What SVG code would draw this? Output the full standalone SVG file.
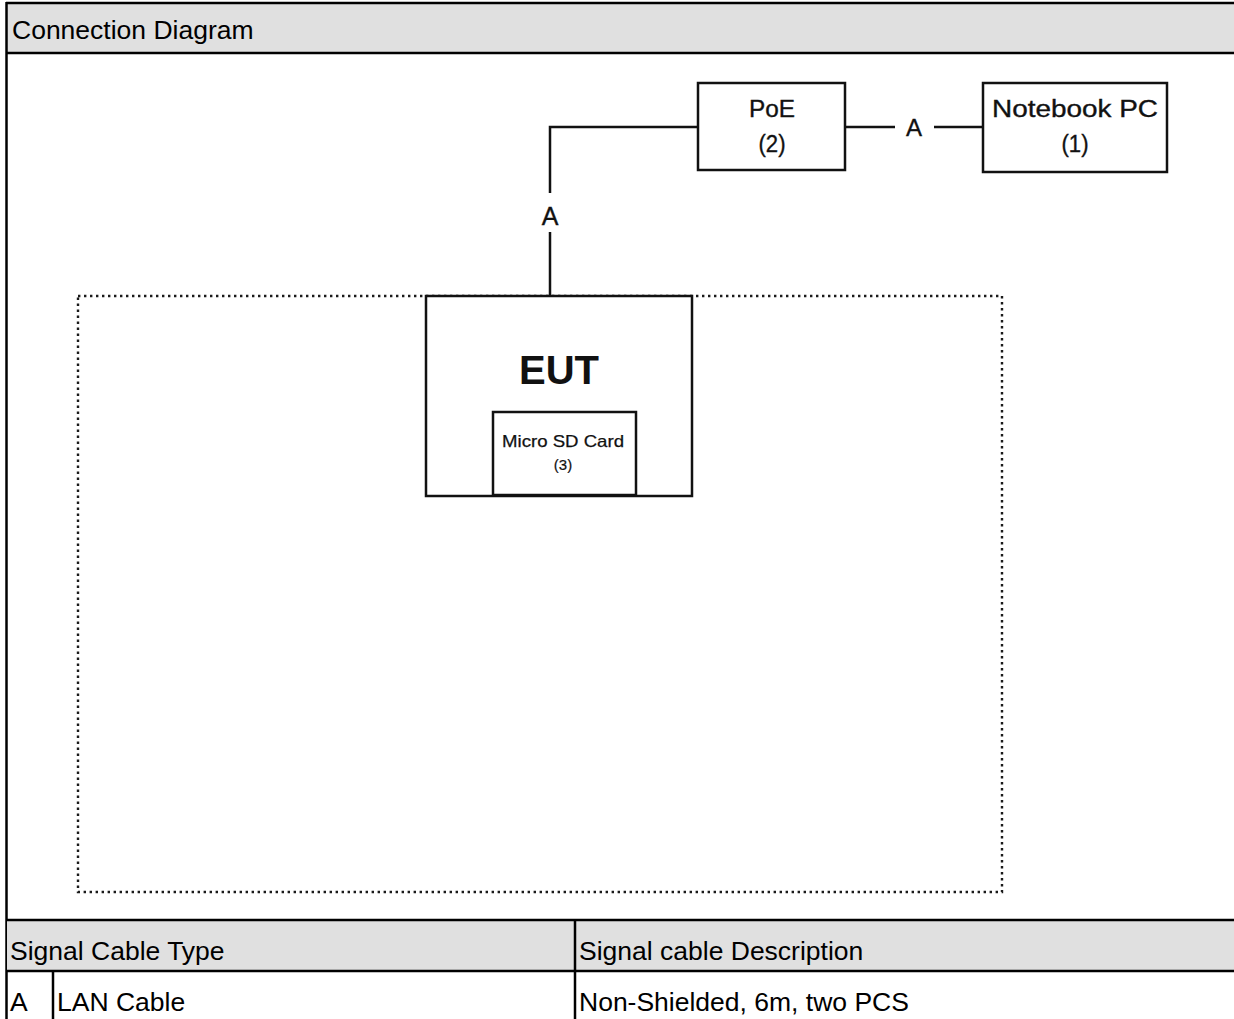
<svg xmlns="http://www.w3.org/2000/svg" width="1234" height="1019" viewBox="0 0 1234 1019">
<style>
.frame{stroke:#000;stroke-width:2.5;fill:none}
.hdr{fill:#e0e0e0}
.tt{font-family:"Liberation Sans",Arial,sans-serif;font-size:26.5px;fill:#000}
.lbl{font-family:"Liberation Sans",Arial,sans-serif;fill:#111;text-anchor:middle;stroke:#111;stroke-width:0.35}
.box{fill:#fff;stroke:#111;stroke-width:2.5}
.wire{stroke:#111;stroke-width:2.5;fill:none}
.dot{stroke:#1a1a1a;stroke-width:2.4;fill:none;stroke-dasharray:2.4 3.6}
</style>
<rect x="0" y="0" width="1234" height="1019" fill="#fff"/>
<g id="title-row">
<rect class="hdr" x="7" y="4" width="1227" height="49"/>
<line class="frame" x1="6" y1="3" x2="1234" y2="3"/>
<line class="frame" x1="6" y1="53" x2="1234" y2="53"/>
<text class="tt" x="12" y="39">Connection Diagram</text>
</g>
<line class="frame" x1="6.5" y1="2" x2="6.5" y2="1019"/>
<g id="boundary">
<rect class="dot" x="78" y="296" width="924" height="596"/>
</g>
<g id="connectors">
<polyline class="wire" points="698,127 550,127 550,193"/>
<line class="wire" x1="550" y1="232" x2="550" y2="296"/>
<line class="wire" x1="845" y1="127" x2="895" y2="127"/>
<line class="wire" x1="934" y1="127" x2="983" y2="127"/>
<text class="lbl" x="550" y="225" style="font-size:25px">A</text>
<text class="lbl" x="914" y="136" style="font-size:24px">A</text>
</g>
<g id="poe">
<rect class="box" x="698" y="83" width="147" height="87"/>
<text class="lbl" x="772" y="117" style="font-size:23px" textLength="46" lengthAdjust="spacingAndGlyphs">PoE</text>
<text class="lbl" x="772" y="152" style="font-size:23px" textLength="27" lengthAdjust="spacingAndGlyphs">(2)</text>
</g>
<g id="notebook">
<rect class="box" x="983" y="83" width="184" height="89"/>
<text class="lbl" x="1075" y="117" style="font-size:23.5px" textLength="166" lengthAdjust="spacingAndGlyphs">Notebook PC</text>
<text class="lbl" x="1075" y="152" style="font-size:23px" textLength="27" lengthAdjust="spacingAndGlyphs">(1)</text>
</g>
<g id="eut">
<rect class="box" x="426" y="296" width="266" height="200"/>
<text x="559" y="384" font-family="Liberation Sans,Arial,sans-serif" font-weight="bold" font-size="40" text-anchor="middle" fill="#111">EUT</text>
</g>
<g id="microsd">
<rect class="box" x="493" y="412" width="143" height="83"/>
<text class="lbl" x="563" y="447" style="font-size:16.5px;stroke-width:0.25" textLength="122" lengthAdjust="spacingAndGlyphs">Micro SD Card</text>
<text class="lbl" x="563" y="470" style="font-size:15px;stroke-width:0.2">(3)</text>
</g>
<g id="cable-table">
<rect class="hdr" x="7" y="921" width="1227" height="50"/>
<line class="frame" x1="6" y1="920" x2="1234" y2="920"/>
<line class="frame" x1="6" y1="971" x2="1234" y2="971"/>
<line class="frame" x1="575" y1="920" x2="575" y2="1019"/>
<line class="frame" x1="53" y1="971" x2="53" y2="1019"/>
<text class="tt" x="10" y="960">Signal Cable Type</text>
<text class="tt" x="579" y="960">Signal cable Description</text>
<text class="tt" x="10" y="1011">A</text>
<text class="tt" x="57" y="1011">LAN Cable</text>
<text class="tt" x="579" y="1011">Non-Shielded, 6m, two PCS</text>
</g>
</svg>
